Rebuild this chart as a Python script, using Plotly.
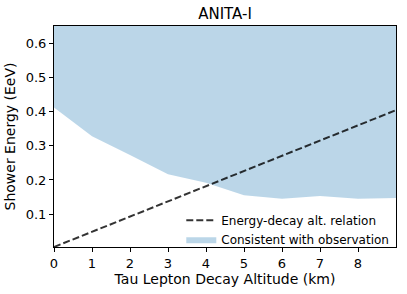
import plotly.graph_objects as go

# Data
altitude_km = [0, 1, 2, 3, 4, 5, 6, 7, 8, 9]
boundary_eev = [0.412, 0.328, 0.273, 0.217, 0.192, 0.155, 0.145, 0.153, 0.145, 0.147]
region_top_eev = 0.65
line_x = [0, 9]
line_y = [0.004, 0.404]

fill_x = altitude_km + altitude_km[::-1]
fill_y = boundary_eev + [region_top_eev] * len(altitude_km)

fig = go.Figure()
fig.add_trace(go.Scatter(
    x=fill_x, y=fill_y, mode="lines", fill="toself",
    fillcolor="rgba(31,119,180,0.3)", line=dict(width=0),
    name="Consistent with observation", hoverinfo="skip"))
fig.add_trace(go.Scatter(
    x=line_x, y=line_y, mode="lines",
    line=dict(color="rgba(0,0,0,0.8)", width=2, dash="7px,3px"),
    name="Energy-decay alt. relation", hoverinfo="skip"))

font = "DejaVu Sans"
fig.update_layout(
    width=407, height=294,
    margin=dict(l=54, r=11, t=26, b=47),
    plot_bgcolor="white", paper_bgcolor="white",
    font=dict(family=font, size=12, color="black"),
    title=dict(text="ANITA-I", x=(54 + 396) / 2 / 407, xanchor="center",
               y=1 - 13.5 / 294, yanchor="middle", font=dict(size=15)),
    showlegend=True,
    legend=dict(x=0.995, y=-0.03, xanchor="right", yanchor="bottom",
                bgcolor="rgba(255,255,255,0)", traceorder="reversed",
                font=dict(size=12), itemwidth=30, tracegroupgap=0),
    xaxis=dict(range=[0, 9], tickvals=[0, 1, 2, 3, 4, 5, 6, 7, 8],
               showgrid=False, zeroline=False, showline=True, linecolor="black",
               linewidth=1, mirror=True, ticks="outside", ticklen=4,
               tickcolor="black", tickfont=dict(size=13), automargin=False,
               title=dict(text="Tau Lepton Decay Altitude (km)", standoff=4)),
    yaxis=dict(range=[0.004, 0.65], tickvals=[0.1, 0.2, 0.3, 0.4, 0.5, 0.6],
               tickformat=".1f",
               showgrid=False, zeroline=False, showline=True, linecolor="black",
               linewidth=1, mirror=True, ticks="outside", ticklen=4,
               tickcolor="black", tickfont=dict(size=13), automargin=False,
               title=dict(text="Shower Energy (EeV)", standoff=6)),
)

fig.write_html("out.html", config={"displayModeBar": False},
               post_script="document.body.style.margin='0';document.body.style.overflow='hidden';")
